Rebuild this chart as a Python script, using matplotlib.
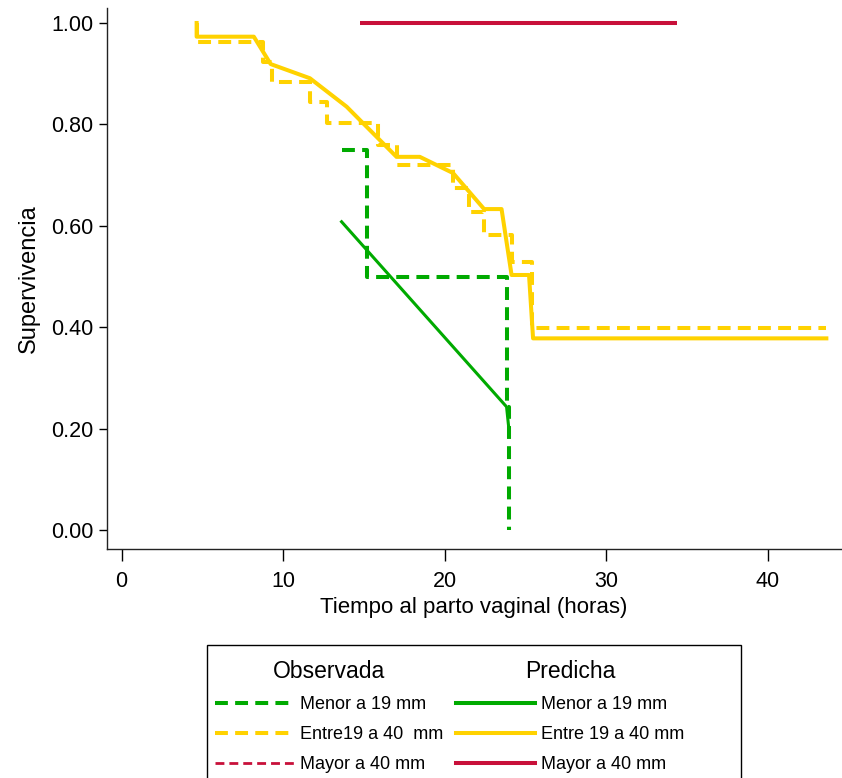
import numpy as np
import matplotlib
matplotlib.use('Agg')
import matplotlib.pyplot as plt
from matplotlib.lines import Line2D
from matplotlib.patches import Rectangle

plt.rcParams['font.family'] = ['Liberation Sans', 'DejaVu Sans']

# Datos observados (Kaplan-Meier), escalones
obs_menor_t = [13.61, 15.16, 23.82, 23.98]
obs_menor_s = [0.750, 0.500, 0.243, 0.000]

obs_entre_t = [4.64, 4.64, 8.76, 9.28, 11.65, 12.68, 15.87, 17.01,
               20.51, 21.50, 22.43, 24.13, 25.40, 43.61]
obs_entre_s = [1.000, 0.963, 0.924, 0.884, 0.845, 0.802, 0.759, 0.720,
               0.674, 0.628, 0.582, 0.529, 0.398, 0.398]

obs_mayor_t = [14.74, 34.35]
obs_mayor_s = [1.000, 1.000]

# Datos predichos
pred_menor_t = [13.61, 23.82, 23.98]
pred_menor_s = [0.608, 0.243, 0.194]

pred_entre_t = [4.64, 4.64, 8.18, 9.22, 11.65, 13.92, 17.01, 18.45,
                20.51, 22.43, 23.51, 24.13, 25.21, 25.46, 43.61]
pred_entre_s = [1.000, 0.973, 0.973, 0.919, 0.891, 0.835, 0.736, 0.736,
                0.704, 0.633, 0.633, 0.503, 0.503, 0.378, 0.378]

pred_mayor_t = [14.74, 34.35]
pred_mayor_s = [1.000, 1.000]

xticks = [0, 10, 20, 30, 40]
yticks = [0.0, 0.2, 0.4, 0.6, 0.8, 1.0]

verde = '#00aa00'
amarillo = '#ffd200'
rojo = '#c8103a'

fig = plt.figure(figsize=(8.42, 7.78), dpi=100)
ax = fig.add_axes([0.1274, 0.2943, 0.8711, 0.6957])

lw = 2.9
dash = (3.2, 1.8)

ax.plot(obs_mayor_t, obs_mayor_s, color=rojo, lw=2.0, dashes=dash)
ax.plot(pred_mayor_t, pred_mayor_s, color=rojo, lw=lw, solid_capstyle='butt')

ax.plot(obs_entre_t, obs_entre_s, color=amarillo, lw=lw, dashes=dash,
        drawstyle='steps-post')
ax.plot(pred_entre_t, pred_entre_s, color=amarillo, lw=lw)

ax.plot(obs_menor_t, obs_menor_s, color=verde, lw=lw, dashes=dash,
        drawstyle='steps-post')
ax.plot(pred_menor_t, pred_menor_s, color=verde, lw=2.2)

ax.set_xlim(-0.89, 44.5)
ax.set_ylim(-0.0375, 1.03)
ax.set_xticks(xticks)
ax.set_yticks(yticks)
ax.set_yticklabels(['%.2f' % v for v in yticks])

for s in ['top', 'right']:
    ax.spines[s].set_visible(False)
for s in ['left', 'bottom']:
    ax.spines[s].set_linewidth(1.0)
    ax.spines[s].set_color('#222222')

ax.tick_params(axis='y', direction='out', length=5.8, width=1.0, pad=4,
               labelsize=15.5)
ax.tick_params(axis='x', direction='out', length=8.6, width=1.0, pad=7,
               labelsize=15.5)

ax.set_xlabel('Tiempo al parto vaginal (horas)', fontsize=16, labelpad=4)
ax.set_ylabel('Supervivencia', fontsize=17, labelpad=8)

# Leyenda: dos bloques con título y un marco común
h_obs = [Line2D([], [], color=verde, lw=2.9, dashes=dash),
         Line2D([], [], color=amarillo, lw=2.9, dashes=dash),
         Line2D([], [], color=rojo, lw=2.0, dashes=dash)]
l_obs = ['Menor a 19 mm', 'Entre19 a 40  mm', 'Mayor a 40 mm']
h_pred = [Line2D([], [], color=verde, lw=2.9),
          Line2D([], [], color=amarillo, lw=2.9),
          Line2D([], [], color=rojo, lw=2.9)]
l_pred = ['Menor a 19 mm', 'Entre 19 a 40 mm', 'Mayor a 40 mm']

kw = dict(frameon=False, fontsize=13, title_fontsize=16.5, handlelength=4.4,
          handletextpad=0.3, labelspacing=0.72, borderpad=0.0,
          borderaxespad=0.0, loc='upper left')
leg1 = fig.legend(h_obs, l_obs, title='Observada',
                  bbox_to_anchor=(0.2553, 0.1517), **kw)
leg2 = fig.legend(h_pred, l_pred, title='Predicha',
                  bbox_to_anchor=(0.5416, 0.1517), **kw)

fig.patches.append(Rectangle((0.2458, -0.05), 0.6342, 0.221,
                             transform=fig.transFigure, fill=False,
                             edgecolor='black', lw=1.0))

fig.savefig('out.png', dpi=100)
